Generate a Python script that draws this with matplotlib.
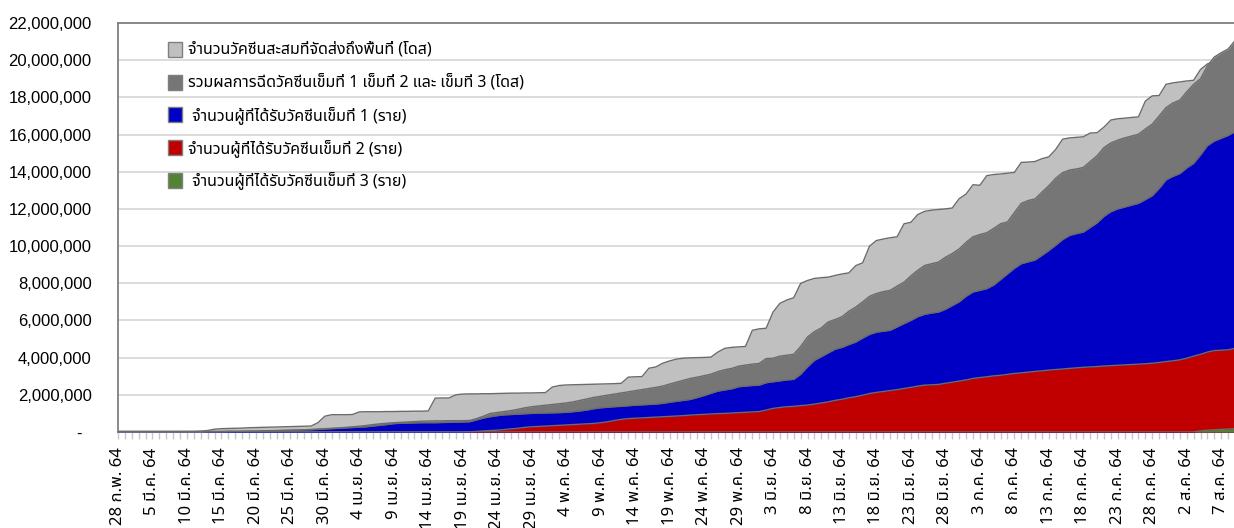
import numpy as np
import matplotlib
matplotlib.use("Agg")
import matplotlib.pyplot as plt
from matplotlib import font_manager
from matplotlib.ft2font import FT2Font
from matplotlib.patches import Rectangle
from matplotlib.ticker import FixedLocator, MultipleLocator

# daily values, 28 Feb 64 .. 9 Aug 64, millions
delivered = [
    0.04, 0.04, 0.04, 0.04, 0.04, 0.04, 0.04, 0.04, 0.04, 0.04,
    0.04, 0.04, 0.05, 0.08, 0.15, 0.18, 0.19, 0.20, 0.21, 0.23,
    0.24, 0.25, 0.26, 0.27, 0.28, 0.29, 0.30, 0.31, 0.32, 0.50,
    0.85, 0.93, 0.93, 0.93, 0.94, 1.08, 1.09, 1.09, 1.09, 1.10,
    1.10, 1.11, 1.11, 1.12, 1.12, 1.13, 1.82, 1.83, 1.83, 2.00,
    2.04, 2.05, 2.05, 2.06, 2.06, 2.07, 2.08, 2.09, 2.09, 2.10,
    2.10, 2.11, 2.12, 2.42, 2.50, 2.53, 2.54, 2.55, 2.56, 2.57,
    2.58, 2.59, 2.60, 2.62, 2.95, 2.97, 2.98, 3.43, 3.50, 3.70,
    3.82, 3.92, 3.97, 3.99, 4.00, 4.01, 4.03, 4.30, 4.50, 4.55,
    4.58, 4.60, 5.47, 5.55, 5.58, 6.45, 6.92, 7.10, 7.22, 7.99,
    8.15, 8.26, 8.30, 8.33, 8.42, 8.50, 8.56, 8.95, 9.10, 10.00,
    10.30, 10.38, 10.45, 10.50, 11.20, 11.28, 11.70, 11.87, 11.93, 11.97,
    12.00, 12.05, 12.55, 12.80, 13.30, 13.27, 13.79, 13.85, 13.88, 13.92,
    13.96, 14.50, 14.52, 14.55, 14.70, 14.80, 15.20, 15.75, 15.82, 15.85,
    15.88, 16.08, 16.10, 16.40, 16.78, 16.85, 16.88, 16.92, 16.95, 17.80,
    18.08, 18.10, 18.70, 18.78, 18.83, 18.88, 18.92, 19.50, 19.80, 19.90,
    19.95, 20.00, 20.05,
]
total_doses = [
    0.01, 0.01, 0.01, 0.01, 0.01, 0.01, 0.01, 0.01, 0.01, 0.02,
    0.02, 0.02, 0.02, 0.03, 0.03, 0.03, 0.04, 0.04, 0.04, 0.05,
    0.05, 0.06, 0.07, 0.08, 0.09, 0.10, 0.11, 0.12, 0.14, 0.16,
    0.18, 0.20, 0.22, 0.25, 0.28, 0.31, 0.35, 0.40, 0.44, 0.47,
    0.50, 0.52, 0.54, 0.56, 0.58, 0.59, 0.60, 0.60, 0.61, 0.61,
    0.61, 0.62, 0.72, 0.85, 1.00, 1.05, 1.10, 1.15, 1.22, 1.30,
    1.36, 1.40, 1.44, 1.48, 1.52, 1.56, 1.62, 1.70, 1.78, 1.86,
    1.92, 1.98, 2.04, 2.10, 2.16, 2.22, 2.28, 2.34, 2.40, 2.47,
    2.58, 2.68, 2.78, 2.88, 2.95, 3.03, 3.11, 3.25, 3.35, 3.42,
    3.54, 3.60, 3.65, 3.69, 3.95, 3.97, 4.08, 4.13, 4.18, 4.60,
    5.11, 5.40, 5.60, 5.92, 6.05, 6.20, 6.50, 6.72, 7.00, 7.30,
    7.45, 7.55, 7.62, 7.85, 8.06, 8.40, 8.70, 8.96, 9.05, 9.14,
    9.40, 9.60, 9.85, 10.20, 10.50, 10.62, 10.72, 10.95, 11.20, 11.30,
    11.80, 12.30, 12.45, 12.54, 12.90, 13.25, 13.65, 13.95, 14.09, 14.15,
    14.23, 14.55, 14.86, 15.30, 15.55, 15.70, 15.82, 15.92, 16.02, 16.30,
    16.56, 17.00, 17.45, 17.70, 17.85, 18.30, 18.70, 19.00, 19.70, 20.17,
    20.40, 20.60, 21.05,
]
dose1 = [
    0.01, 0.01, 0.01, 0.01, 0.01, 0.01, 0.01, 0.01, 0.01, 0.01,
    0.01, 0.01, 0.01, 0.02, 0.02, 0.02, 0.03, 0.03, 0.03, 0.04,
    0.04, 0.05, 0.06, 0.07, 0.08, 0.09, 0.10, 0.11, 0.12, 0.14,
    0.16, 0.18, 0.20, 0.22, 0.24, 0.26, 0.28, 0.32, 0.36, 0.40,
    0.45, 0.47, 0.48, 0.49, 0.50, 0.50, 0.50, 0.51, 0.52, 0.53,
    0.54, 0.55, 0.65, 0.75, 0.82, 0.88, 0.92, 0.94, 0.96, 0.98,
    1.00, 1.01, 1.02, 1.03, 1.04, 1.06, 1.09, 1.13, 1.18, 1.25,
    1.30, 1.33, 1.36, 1.38, 1.41, 1.44, 1.46, 1.48, 1.50, 1.54,
    1.60, 1.65, 1.70, 1.75, 1.85, 1.96, 2.08, 2.20, 2.26, 2.32,
    2.43, 2.47, 2.50, 2.52, 2.65, 2.70, 2.75, 2.80, 2.83, 3.10,
    3.50, 3.85, 4.05, 4.25, 4.45, 4.55, 4.70, 4.84, 5.05, 5.25,
    5.37, 5.42, 5.47, 5.65, 5.83, 6.00, 6.20, 6.33, 6.40, 6.45,
    6.60, 6.80, 7.00, 7.30, 7.53, 7.62, 7.71, 7.90, 8.20, 8.50,
    8.80, 9.05, 9.15, 9.25, 9.50, 9.76, 10.05, 10.35, 10.57, 10.67,
    10.75, 11.00, 11.25, 11.60, 11.85, 12.00, 12.10, 12.20, 12.30, 12.50,
    12.71, 13.10, 13.56, 13.75, 13.90, 14.20, 14.45, 14.90, 15.40, 15.65,
    15.80, 15.95, 16.15,
]
dose2 = [0.0] * 50 + [
    0.00, 0.01, 0.03, 0.06, 0.08, 0.10, 0.13, 0.17, 0.20, 0.25,
    0.28, 0.30, 0.32, 0.34, 0.36, 0.38, 0.40, 0.42, 0.44, 0.46,
    0.50, 0.55, 0.62, 0.68, 0.72, 0.74, 0.76, 0.78, 0.80, 0.82,
    0.84, 0.86, 0.88, 0.91, 0.93, 0.95, 0.97, 0.99, 1.00, 1.02,
    1.04, 1.06, 1.08, 1.10, 1.18, 1.27, 1.32, 1.36, 1.38, 1.42,
    1.45, 1.50, 1.56, 1.62, 1.70, 1.76, 1.84, 1.90, 1.98, 2.07,
    2.13, 2.18, 2.23, 2.28, 2.34, 2.40, 2.47, 2.52, 2.54, 2.56,
    2.62, 2.68, 2.74, 2.80, 2.88, 2.93, 2.97, 3.02, 3.05, 3.10,
    3.15, 3.18, 3.22, 3.26, 3.29, 3.33, 3.36, 3.39, 3.42, 3.45,
    3.48, 3.50, 3.52, 3.55, 3.57, 3.59, 3.61, 3.63, 3.65, 3.67,
    3.70, 3.74, 3.79, 3.83, 3.88, 3.97, 4.08, 4.18, 4.30, 4.38,
    4.40, 4.42, 4.50,
]
dose3 = [0.0] * 157 + [0.06, 0.10, 0.12, 0.14, 0.16, 0.18]

date_labels = [
    "28 ก.พ. 64", "5 มี.ค. 64", "10 มี.ค. 64", "15 มี.ค. 64", "20 มี.ค. 64",
    "25 มี.ค. 64", "30 มี.ค. 64", "4 เม.ย. 64", "9 เม.ย. 64", "14 เม.ย. 64",
    "19 เม.ย. 64", "24 เม.ย. 64", "29 เม.ย. 64", "4 พ.ค. 64", "9 พ.ค. 64",
    "14 พ.ค. 64", "19 พ.ค. 64", "24 พ.ค. 64", "29 พ.ค. 64", "3 มิ.ย. 64",
    "8 มิ.ย. 64", "13 มิ.ย. 64", "18 มิ.ย. 64", "23 มิ.ย. 64", "28 มิ.ย. 64",
    "3 ก.ค. 64", "8 ก.ค. 64", "13 ก.ค. 64", "18 ก.ค. 64", "23 ก.ค. 64",
    "28 ก.ค. 64", "2 ส.ค. 64", "7 ส.ค. 64",
]
series_names = [
    "จำนวนวัคซีนสะสมที่จัดส่งถึงพื้นที่ (โดส)",
    "รวมผลการฉีดวัคซีนเข็มที่ 1 เข็มที่ 2 และ เข็มที่ 3 (โดส)",
    " จำนวนผู้ที่ได้รับวัคซีนเข็มที่ 1 (ราย)",
    "จำนวนผู้ที่ได้รับวัคซีนเข็มที่ 2 (ราย)",
    " จำนวนผู้ที่ได้รับวัคซีนเข็มที่ 3 (ราย)",
]
series_colors = ["#c0c0c0", "#767676", "#0000c4", "#c00000", "#548235"]
y_ticks = [0, 2e6, 4e6, 6e6, 8e6, 10e6, 12e6, 14e6, 16e6, 18e6, 20e6, 22e6]


def thai_family():
    preferred = ["Tahoma", "Noto Sans Thai", "Noto Sans Thai UI", "Loma",
                 "Garuda", "Sarabun", "Norasi", "Kinnari", "Waree"]
    found = []
    for entry in font_manager.fontManager.ttflist:
        try:
            ft = FT2Font(entry.fname)
            if ft.get_char_index(0x0E08) and ft.get_char_index(0x0E35):
                found.append(entry.name)
        except Exception:
            pass
    for name in preferred:
        if name in found:
            return name
    return found[0] if found else "DejaVu Sans"


thai = thai_family()
plt.rcParams["font.family"] = [thai, "DejaVu Sans"]

series = [delivered, total_doses, dose1, dose2, dose3]
days = np.arange(len(delivered))

fig = plt.figure(figsize=(12.34, 5.28), dpi=100)
ax = fig.add_axes([118 / 1234, 96 / 528, 1117 / 1234, 409 / 528])

for i, (vals, col) in enumerate(zip(series, series_colors)):
    v = np.array(vals) * 1e6
    ax.fill_between(days, 0, v, color=col, linewidth=0, zorder=2 + i)
    ax.plot(days, v, color="#6b6b6b", linewidth=1.0, zorder=2 + i)

ax.set_xlim(0, 162)
ax.set_ylim(0, 22e6)

ax.yaxis.set_major_locator(FixedLocator(y_ticks))
ax.set_yticklabels(["-  "] + [f"{int(t):,}" for t in y_ticks[1:]],
                   family="Liberation Sans", fontsize=12)
ax.tick_params(axis="y", length=0, pad=19)
ax.grid(axis="y", color="#d9d9d9", linewidth=1.3, zorder=0)
ax.set_axisbelow(True)

ax.xaxis.set_major_locator(FixedLocator(np.arange(0, 161, 5)))
ax.xaxis.set_minor_locator(MultipleLocator(1))
ax.set_xticklabels(date_labels, rotation=90, fontsize=12)
ax.tick_params(axis="x", which="both", length=5, color="#c8c8c8", width=1)
ax.tick_params(axis="x", which="major", pad=6)

for side in ["left", "top", "bottom"]:
    ax.spines[side].set_color("#808080")
    ax.spines[side].set_linewidth(1.3)
ax.spines["right"].set_visible(False)

# legend, drawn by hand to match the spacing
for i, (name, col) in enumerate(zip(series_names, series_colors)):
    yc = (432 - (49.5 + 32.7 * i)) / 409
    ax.add_patch(Rectangle((50 / 1117, yc - 7.5 / 409), 14 / 1117, 15 / 409,
                           transform=ax.transAxes, facecolor=col,
                           edgecolor="#7f7f7f", linewidth=1, zorder=20))
    ax.text(70 / 1117, yc, name, transform=ax.transAxes, fontsize=11.5,
            va="center", ha="left", zorder=20)

fig.savefig("out.png", dpi=100)
